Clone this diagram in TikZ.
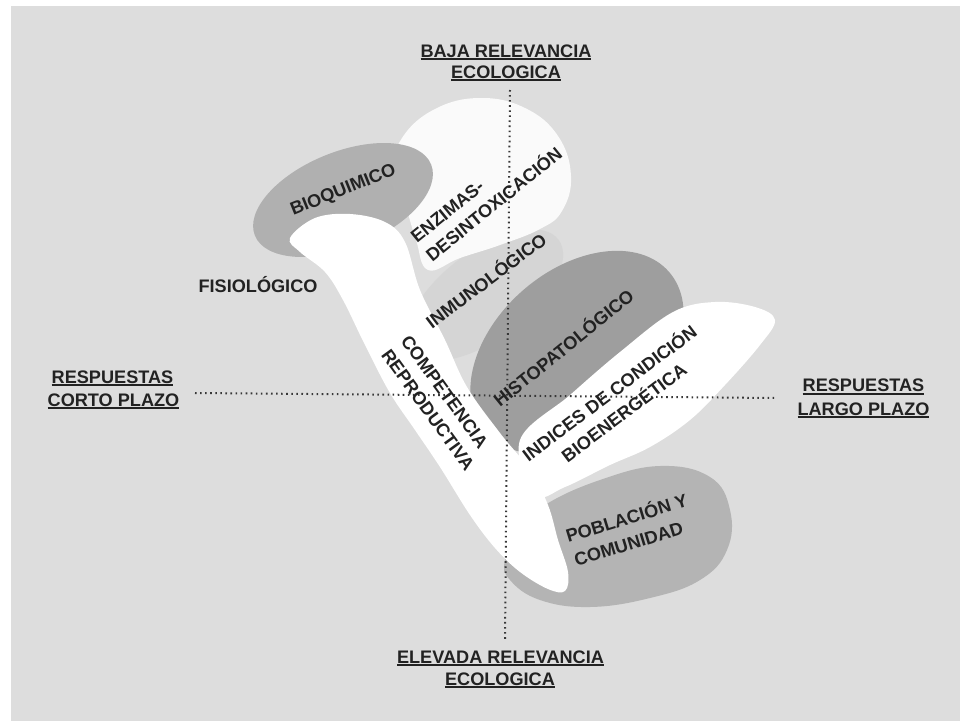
\documentclass[tikz,border=0pt]{standalone}
\usepackage{fontspec}
\setmainfont{Liberation Sans}
\definecolor{bg}{RGB}{221,221,221}
\definecolor{inm}{RGB}{213,213,213}
\definecolor{bioq}{RGB}{176,176,176}
\definecolor{histo}{RGB}{158,158,158}
\definecolor{pob}{RGB}{180,180,180}
\definecolor{enz}{RGB}{250,250,250}
\definecolor{txt}{RGB}{34,34,34}
\definecolor{dotc}{RGB}{55,55,55}
\newcommand\axul[1]{\setbox0\hbox{#1}\rlap{\copy0}\rule[-2.4pt]{\wd0}{1.3pt}}
\tikzset{
  lbl/.style={font=\bfseries\fontsize{13.6}{16}\selectfont, text=txt, inner sep=0pt},
  dots/.style={draw=dotc, line width=1.5pt, dash pattern=on 1.2pt off 2.6pt}
}
\begin{document}
\begin{tikzpicture}[x=0.75pt,y=-0.75pt]
\fill[white] (0,0) rectangle (960,721);
\useasboundingbox (0,0) rectangle (960,721);
\fill[bg] (11,6) rectangle (960,721);

% inmunologico (light band)
\begin{scope}[shift={(485,295)},rotate=37]
\fill[inm] (0,0) ellipse [x radius=92,y radius=44];
\end{scope}
% histopatologico
\begin{scope}[shift={(577,352)},rotate=41]
\fill[histo] (0,0) ellipse [x radius=122,y radius=82];
\end{scope}
% poblacion
\fill[pob] plot[smooth cycle, tension=0.7] coordinates {(545,505) (600,480) (660,466) (710,477) (730,510) (727,550) (700,580) (650,598) (590,607) (540,600) (510,580) (505,560) (520,530)};
% enzimas (white blob)
\fill[enz] plot[smooth cycle, tension=0.7] coordinates {(435,109) (480,98) (525,108) (558,136) (571,176) (562,211) (540,229) (500,245) (460,258) (428,270) (416,240) (405,205) (392,175) (402,138)};
% bioquimico
\begin{scope}[shift={(343,200)},rotate=22]
\fill[bioq] (0,0) ellipse [x radius=95,y radius=48];
\end{scope}
% white band
\fill[white] plot[smooth cycle, tension=0.6] coordinates {(290,238) (315,218) (350,214) (385,222) (405,242) (420,290) (445,340) (467,387) (500,433) (530,470) (548,505) (558,540) (568,572) (565,591) (548,589) (520,572) (495,548) (470,515) (440,467) (415,430) (390,393) (365,345) (343,300) (325,272) (300,252)};
% indices
\fill[white] plot[smooth cycle, tension=0.6] coordinates {(520,440) (570,395) (620,352) (673,312) (715,302) (755,307) (775,320) (760,345) (725,385) (690,420) (650,447) (610,465) (565,487) (535,495)};

% axes
\coordinate (vtop) at (510,90);
\coordinate (vbot) at (505,640);
\coordinate (hleft) at (195,393);
\coordinate (hright) at (777,398);
\draw[dots] (vtop) -- (vbot);
\draw[dots] (hleft) -- (hright);

% axis labels
\node[lbl, anchor=base] (bajaA) at (506,57) {\axul{BAJA RELEVANCIA}};
\node[lbl, anchor=base] (bajaB) at (506,78) {\axul{ECOLOGICA}};
\node[lbl, anchor=base] (elevA) at (500.5,663) {\axul{ELEVADA RELEVANCIA}};
\node[lbl, anchor=base] (elevB) at (500,685) {\axul{ECOLOGICA}};
\node[lbl, anchor=base] (cortoA) at (112.5,383) {\axul{RESPUESTAS}};
\node[lbl, anchor=base] (cortoB) at (113.5,406) {\axul{CORTO PLAZO}};
\node[lbl, anchor=base] (largoA) at (863.5,391.5) {\axul{RESPUESTAS}};
\node[lbl, anchor=base] (largoB) at (863.5,415) {\axul{LARGO PLAZO}};
\node[lbl, anchor=base] (fisio) at (258,292) {FISIOLÓGICO};

% region labels
\begin{scope}[shift={(293,216)},rotate=22,transform shape]
\node[lbl,anchor=base west] (bioqT) at (0,0) {BIOQUIMICO};
\end{scope}
\begin{scope}[shift={(417,244)},rotate=39,transform shape]
\node[lbl,anchor=base west] (enzA) at (0,0) {ENZIMAS-};
\node[lbl,anchor=base west] (enzB) at (0,24) {DESINTOXICACIÓN};
\end{scope}
\begin{scope}[shift={(432,330)},rotate=37,transform shape]
\node[lbl,anchor=base west] (inmT) at (0,0) {INMUNOLÓGICO};
\end{scope}
\begin{scope}[shift={(500,408)},rotate=39,transform shape]
\node[lbl,anchor=base west] (histoT) at (0,0) {HISTOPATOLÓGICO};
\end{scope}
\begin{scope}[shift={(613.5,398.6)},rotate=37,transform shape]
\node[lbl,anchor=base] (indA) at (0,0) {INDICES DE CONDICIÓN};
\node[lbl,anchor=base] (indB) at (0,24) {BIOENERGÉTICA};
\end{scope}
\begin{scope}[shift={(400,341)},rotate=-54,transform shape]
\node[lbl,anchor=base west] (compA) at (0,0) {COMPETENCIA};
\node[lbl,anchor=base west] (compB) at (0,24) {REPRODUCTIVA};
\end{scope}
\begin{scope}[shift={(568,543)},rotate=17,transform shape]
\node[lbl,anchor=base west] (pobA) at (0,0) {POBLACIÓN Y};
\node[lbl,anchor=base west] (pobB) at (1,25) {COMUNIDAD};
\end{scope}
\end{tikzpicture}
\end{document}
